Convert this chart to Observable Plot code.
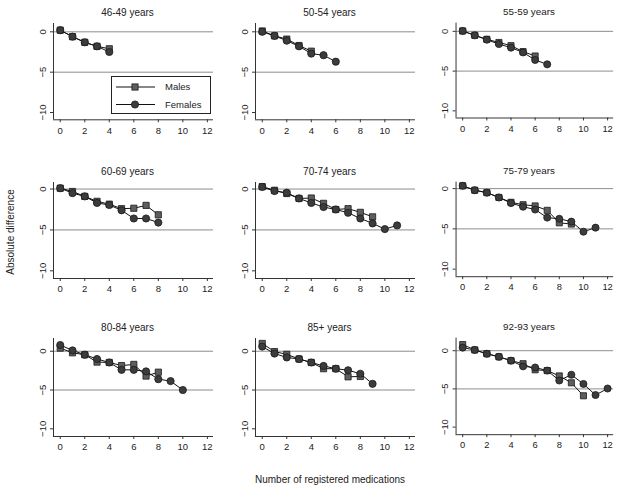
<!DOCTYPE html>
<html>
<head>
<meta charset="utf-8">
<script src="https://cdn.jsdelivr.net/npm/d3@7"></script>
<script src="https://cdn.jsdelivr.net/npm/@observablehq/plot@0.6"></script>
<style>
  body { margin: 0; background: #fff; }
  #wrap { position: relative; width: 623px; height: 493px; background: #fff; font-family: "Liberation Sans", Arial, sans-serif; color: #222; overflow: hidden; }
  .panel { position: absolute; }
  .panel svg { display: block; }
  .ylab { position: absolute; left: 10px; top: 232px; transform: translate(-50%, -50%) rotate(-90deg); font-size: 10px; white-space: nowrap; }
  .xlab { position: absolute; left: 330px; top: 479px; transform: translate(-50%, -50%); font-size: 10px; white-space: nowrap; }
  .legend { position: absolute; left: 111px; top: 76px; width: 98px; height: 36px; border: 1px solid #222; background: #fff; }
</style>
</head>
<body>
<div id="wrap"></div>
<script>
// ---- data ----
const ageGroups = ["46-49 years", "50-54 years", "55-59 years",
                   "60-69 years", "70-74 years", "75-79 years",
                   "80-84 years", "85+ years", "92-93 years"];
const seriesNames = ["Males", "Females"];
const xTicks = [0, 2, 4, 6, 8, 10, 12];
const yTicks = [0, -5, -10];
const refLines = [0, -5];

// value at 0, 1, 2, ... registered medications
const males = [
  [0.2, -0.6, -1.3, -1.8, -2.1],
  [0.1, -0.5, -0.9, -1.7, -2.4],
  [0.05, -0.5, -1.0, -1.4, -1.8, -2.55, -3.1],
  [0.1, -0.3, -0.9, -1.5, -1.85, -2.4, -2.35, -2.0, -3.15],
  [0.3, -0.15, -0.55, -1.15, -1.1, -1.75, -2.5, -2.4, -2.85, -3.4],
  [0.35, -0.2, -0.5, -1.1, -1.7, -2.0, -2.15, -2.7, -4.25, -4.4],
  [0.4, -0.2, -0.45, -1.4, -1.45, -1.85, -1.7, -3.2, -2.7],
  [1.0, -0.05, -0.4, -1.0, -1.45, -2.25, -2.25, -3.3, -3.25],
  [0.8, 0.1, -0.4, -0.8, -1.3, -1.7, -2.5, -2.6, -3.3, -4.2, -5.9]
];
const females = [
  [0.2, -0.6, -1.3, -1.8, -2.5],
  [0.0, -0.5, -1.1, -1.8, -2.7, -2.9, -3.7],
  [0.05, -0.5, -1.05, -1.6, -2.05, -2.65, -3.6, -4.15],
  [0.1, -0.5, -0.9, -1.7, -1.95, -2.6, -3.6, -3.6, -4.1],
  [0.25, -0.25, -0.45, -1.15, -1.7, -2.2, -2.5, -2.9, -3.6, -4.2, -4.9, -4.45],
  [0.35, -0.2, -0.5, -1.1, -1.8, -2.25, -2.6, -3.6, -3.75, -4.1, -5.35, -4.85],
  [0.8, 0.1, -0.45, -1.0, -1.45, -2.4, -2.4, -2.6, -3.6, -3.85, -5.0],
  [0.6, -0.3, -0.8, -1.0, -1.45, -1.9, -2.25, -2.45, -2.9, -4.2],
  [0.4, 0.1, -0.4, -0.8, -1.3, -2.05, -2.2, -2.6, -3.9, -3.15, -4.35, -5.8, -4.95]
];

// ---- layout ----
const FONT = '"Liberation Sans", Arial, sans-serif';
const colAxisX = [53, 255, 456];
const rowTop = [22.7, 181.7, 338];
const rowBottom = [119, 277.7, 436];
const rowYDomain = [[-10.9, 1.03], [-10.94, 0.8], [-10.99, 1.64]];
const xDomain = [-0.55, 12.5];
const mL = 30, mR = 10, mT = 22, mB = 22, plotW = 160;

const maleStyle = { symbol: "square", r: 3.5, fill: "#5e5e5e", stroke: "#1a1a1a", strokeWidth: 0.8 };
const femaleStyle = { symbol: "circle", r: 3.6, fill: "#3c3c3c", stroke: "#1a1a1a", strokeWidth: 0.8 };

const wrap = document.getElementById("wrap");

ageGroups.forEach((title, i) => {
  const row = Math.floor(i / 3), col = i % 3;
  const yDom = rowYDomain[row];
  const plotH = rowBottom[row] - rowTop[row];
  const mData = males[i].map((v, k) => ({ x: k, y: v }));
  const fData = females[i].map((v, k) => ({ x: k, y: v }));
  const chart = Plot.plot({
    width: mL + plotW + mR,
    height: mT + plotH + mB,
    marginLeft: mL, marginRight: mR, marginTop: mT, marginBottom: mB,
    style: { fontFamily: FONT, fontSize: "9.5px", color: "#222", background: "transparent", overflow: "visible" },
    x: { domain: xDomain, label: null },
    y: { domain: yDom, label: null },
    marks: [
      Plot.ruleY(refLines, { stroke: "#8c8c8c", strokeWidth: 1 }),
      Plot.ruleX([xDomain[0]], { stroke: "#333", strokeWidth: 1 }),
      Plot.ruleY([yDom[0]], { stroke: "#333", strokeWidth: 1 }),
      Plot.axisX({ ticks: xTicks, tickSize: 3, tickPadding: 4, stroke: "#333" }),
      Plot.axisY({ ticks: yTicks, tickSize: 3, tickRotate: -90, tickPadding: 5, stroke: "#333" }),
      Plot.line(mData, { x: "x", y: "y", stroke: "#111", strokeWidth: 1 }),
      Plot.dot(mData, { x: "x", y: "y", ...maleStyle }),
      Plot.line(fData, { x: "x", y: "y", stroke: "#111", strokeWidth: 1 }),
      Plot.dot(fData, { x: "x", y: "y", ...femaleStyle }),
      Plot.text([title], { frameAnchor: "top", lineAnchor: "middle", dy: -11, dx: -6, fontSize: 10, fill: "#222" })
    ]
  });
  const div = document.createElement("div");
  div.className = "panel";
  div.style.left = (colAxisX[col] - mL) + "px";
  div.style.top = (rowTop[row] - mT) + "px";
  div.appendChild(chart);
  wrap.appendChild(div);
});

// legend (inside first panel)
const legend = document.createElement("div");
legend.className = "legend";
const ls = d3.create("svg").attr("width", 98).attr("height", 36).style("display", "block");
seriesNames.forEach((name, k) => {
  const cy = 10 + k * 17.5;
  const st = k === 0 ? maleStyle : femaleStyle;
  ls.append("line").attr("x1", 4).attr("x2", 43).attr("y1", cy).attr("y2", cy).attr("stroke", "#111");
  if (st.symbol === "square") {
    ls.append("rect").attr("x", 23 - 3.1).attr("y", cy - 3.1).attr("width", 6.2).attr("height", 6.2)
      .attr("fill", st.fill).attr("stroke", st.stroke).attr("stroke-width", 0.8);
  } else {
    ls.append("circle").attr("cx", 23).attr("cy", cy).attr("r", 3.6)
      .attr("fill", st.fill).attr("stroke", st.stroke).attr("stroke-width", 0.8);
  }
  ls.append("text").attr("x", 53).attr("y", cy).attr("dy", "0.35em")
    .attr("font-family", FONT).attr("font-size", 9.5).attr("fill", "#222").text(name);
});
legend.appendChild(ls.node());
wrap.appendChild(legend);

const ylab = document.createElement("div");
ylab.className = "ylab";
ylab.textContent = "Absolute difference";
wrap.appendChild(ylab);

const xlab = document.createElement("div");
xlab.className = "xlab";
xlab.textContent = "Number of registered medications";
wrap.appendChild(xlab);
</script>
</body>
</html>
